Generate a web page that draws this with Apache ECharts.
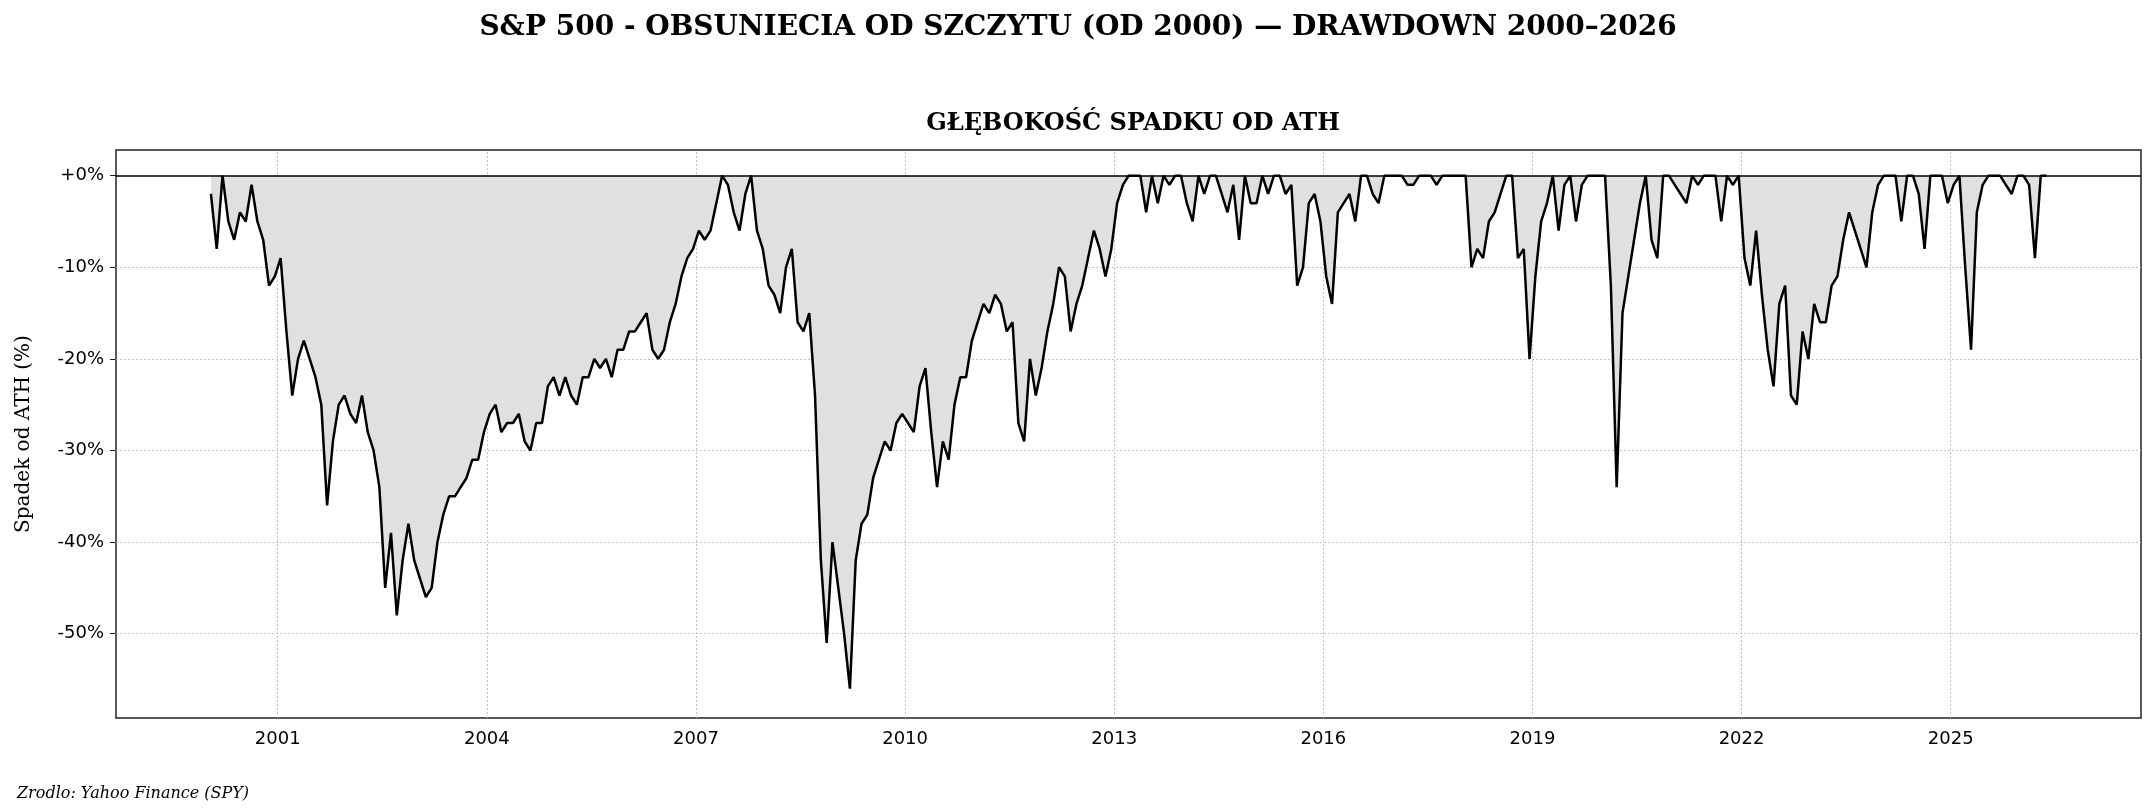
<!DOCTYPE html>
<html>
<head>
<meta charset="utf-8">
<script src="https://cdn.jsdelivr.net/npm/echarts@6/dist/echarts.min.js"></script>
<style>
  html, body { margin: 0; padding: 0; background: #fff; }
  #chart { width: 2156px; height: 812px; }
</style>
</head>
<body>
<div id="chart"></div>
<script>
// monthly drawdown (%) from ATH, starting Jan 2000
var startYear = 2000;
var drawdown = [
  -2, -8, 0, -5, -7, -4, -5, -1, -5, -7, -12, -11,        // 2000
  -9, -17, -24, -20, -18, -20, -22, -25, -36, -29, -25, -24, // 2001
  -26, -27, -24, -28, -30, -34, -45, -39, -48, -42, -38, -42, // 2002
  -44, -46, -45, -40, -37, -35, -35, -34, -33, -31, -31, -28, // 2003
  -26, -25, -28, -27, -27, -26, -29, -30, -27, -27, -23, -22, // 2004
  -24, -22, -24, -25, -22, -22, -20, -21, -20, -22, -19, -19, // 2005
  -17, -17, -16, -15, -19, -20, -19, -16, -14, -11, -9, -8,   // 2006
  -6, -7, -6, -3, 0, -1, -4, -6, -2, 0, -6, -8,              // 2007
  -12, -13, -15, -10, -8, -16, -17, -15, -24, -42, -51, -40, // 2008
  -45, -50, -56, -42, -38, -37, -33, -31, -29, -30, -27, -26, // 2009
  -27, -28, -23, -21, -28, -34, -29, -31, -25, -22, -22, -18, // 2010
  -16, -14, -15, -13, -14, -17, -16, -27, -29, -20, -24, -21, // 2011
  -17, -14, -10, -11, -17, -14, -12, -9, -6, -8, -11, -8,     // 2012
  -3, -1, 0, 0, 0, -4, 0, -3, 0, -1, 0, 0,                    // 2013
  -3, -5, 0, -2, 0, 0, -2, -4, -1, -7, 0, -3,                 // 2014
  -3, 0, -2, 0, 0, -2, -1, -12, -10, -3, -2, -5,              // 2015
  -11, -14, -4, -3, -2, -5, 0, 0, -2, -3, 0, 0,               // 2016
  0, 0, -1, -1, 0, 0, 0, -1, 0, 0, 0, 0,                      // 2017
  0, -10, -8, -9, -5, -4, -2, 0, 0, -9, -8, -20,              // 2018
  -11, -5, -3, 0, -6, -1, 0, -5, -1, 0, 0, 0,                 // 2019
  0, -12, -34, -15, -11, -7, -3, 0, -7, -9, 0, 0,             // 2020
  -1, -2, -3, 0, -1, 0, 0, 0, -5, 0, -1, 0,                   // 2021
  -9, -12, -6, -13, -19, -23, -14, -12, -24, -25, -17, -20,   // 2022
  -14, -16, -16, -12, -11, -7, -4, -6, -8, -10, -4, -1,       // 2023
  0, 0, 0, -5, 0, 0, -2, -8, 0, 0, 0, -3,                     // 2024
  -1, 0, -10, -19, -4, -1, 0, 0, 0, -1, -2, 0,                // 2025
  0, -1, -9, 0, 0                                             // 2026
];
var yearTicks = [2001, 2004, 2007, 2010, 2013, 2016, 2019, 2022, 2025];
var pctTicks = [0, -10, -20, -30, -40, -50];

var points = drawdown.map(function (v, i) {
  return [startYear + (i + 0.5) / 12, v];
});

var serif = 'DejaVu Serif';
var sans = 'DejaVu Sans';

var chart = echarts.init(document.getElementById('chart'));

var gridLines = [];
yearTicks.forEach(function (y) { gridLines.push({ xAxis: y }); });
pctTicks.forEach(function (p) { if (p !== 0) gridLines.push({ yAxis: p }); });

var option = {
  animation: false,
  title: [
    {
      text: 'S&P 500 - OBSUNIECIA OD SZCZYTU (OD 2000) — DRAWDOWN 2000–2026',
      left: 'center', top: 9,
      textStyle: { fontFamily: serif, fontWeight: 'bold', fontSize: 28, color: '#000' }
    },
    {
      text: 'GŁĘBOKOŚĆ SPADKU OD ATH',
      left: 1128, top: 107, textAlign: 'center',
      textStyle: { fontFamily: serif, fontWeight: 'bold', fontSize: 24, color: '#000' }
    },
    {
      text: 'Zrodlo: Yahoo Finance (SPY)',
      left: 12, top: 781,
      textStyle: { fontFamily: serif, fontStyle: 'italic', fontWeight: 'normal', fontSize: 16, color: '#000' }
    }
  ],
  grid: {
    left: 116, top: 150, right: 15, bottom: 94,
    show: true, borderColor: '#222', borderWidth: 1.5, backgroundColor: 'transparent'
  },
  xAxis: {
    type: 'value', min: 1998.68, max: 2027.73,
    axisLine: { show: false },
    splitLine: { show: false },
    axisTick: { show: true, customValues: yearTicks, length: 6, lineStyle: { color: '#222' } },
    axisLabel: {
      customValues: yearTicks, margin: 12,
      fontFamily: sans, fontSize: 18, color: '#000',
      formatter: function (v) { return String(v); }
    }
  },
  yAxis: {
    type: 'value', min: -59.2, max: 2.8,
    name: 'Spadek od ATH (%)', nameLocation: 'middle', nameGap: 82, nameRotate: 90,
    nameTextStyle: { fontFamily: serif, fontSize: 20, color: '#000' },
    axisLine: { show: false },
    splitLine: { show: false },
    axisTick: { show: true, customValues: pctTicks, length: 6, lineStyle: { color: '#222' } },
    axisLabel: {
      customValues: pctTicks, margin: 12,
      fontFamily: sans, fontSize: 18, color: '#000',
      formatter: function (v) { return v === 0 ? '+0%' : Math.round(v) + '%'; }
    }
  },
  series: [
    {
      type: 'line',
      data: points,
      showSymbol: false,
      lineStyle: { color: '#000', width: 2.5 },
      areaStyle: { color: '#e0e0e0', opacity: 1, origin: 0 },
      z: 3,
      markLine: {
        silent: true, symbol: 'none', label: { show: false },
        lineStyle: { color: '#c4c4c4', type: [2, 2], width: 1 },
        data: gridLines, z: 1
      }
    },
    {
      type: 'line',
      data: [],
      markLine: {
        silent: true, symbol: 'none', label: { show: false },
        lineStyle: { color: '#000', type: 'solid', width: 1.5 },
        data: [{ yAxis: 0 }], z: 5
      }
    }
  ]
};

chart.setOption(option);
</script>
</body>
</html>
